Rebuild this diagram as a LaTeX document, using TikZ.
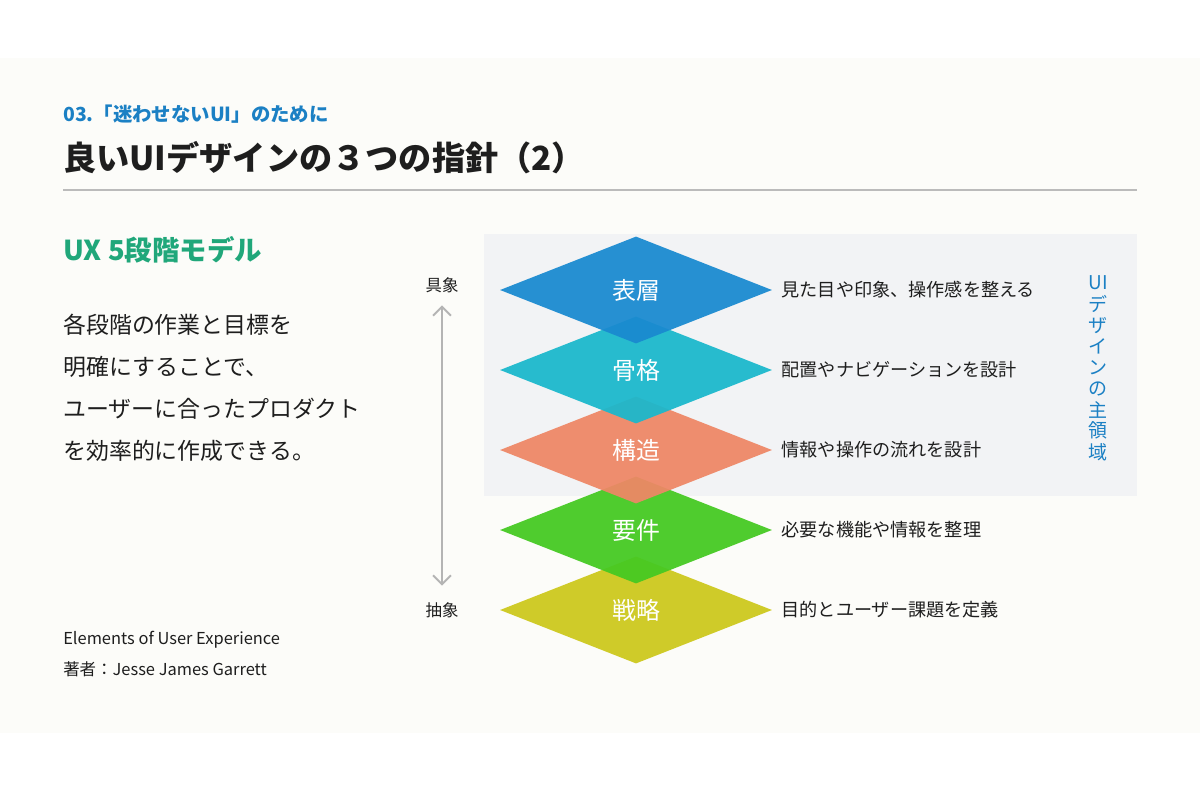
\documentclass[tikz,border=0pt]{standalone}
\usepackage{fontspec}
\setmainfont{Noto Sans CJK JP}
\usetikzlibrary{shapes.geometric,arrows.meta,positioning}
\definecolor{paper}{HTML}{FCFCF9}
\definecolor{panel}{HTML}{F2F3F5}
\definecolor{accent}{HTML}{1B80C4}
\definecolor{uxgreen}{HTML}{20A77A}
\definecolor{ink}{HTML}{1E1E1E}
\definecolor{rulegray}{HTML}{BBBBBB}
\definecolor{axisgray}{HTML}{B4B4B4}
\definecolor{cone}{HTML}{1A8AD0}
\definecolor{ctwo}{HTML}{1BB8CC}
\definecolor{cthree}{HTML}{EE8766}
\definecolor{cfour}{HTML}{45C922}
\definecolor{cfive}{HTML}{CDC81C}
\begin{document}
\begin{tikzpicture}[x=0.025cm,y=-0.025cm,
  txt/.style={anchor=west, inner sep=0pt, text=ink},
  layer/.style={diamond, minimum width=6.8cm, minimum height=2.675cm, inner sep=0pt,
    fill opacity=0.94, text opacity=1, text=white, font=\fontsize{17}{20}\selectfont},
  desc/.style={txt, font=\fontsize{12.9}{15}\selectfont},
  side/.style={inner sep=0pt, text=ink, font=\fontsize{11.7}{14}\selectfont},
  vlabel/.style={inner sep=0pt, text=accent, font=\fontsize{13.5}{15}\selectfont}]
\useasboundingbox (0,0) rectangle (1200,800);
\fill[white] (0,0) rectangle (1200,800);
\fill[paper] (0,58) rectangle (1200,733);

\node[txt, text=accent, font=\bfseries\fontsize{13.8}{16}\selectfont] (sub) at (63,114) {03.「迷わせないUI」のために};
\node[txt, font=\bfseries\fontsize{23.6}{28}\selectfont] (title) at (63,158) {良いUIデザインの３つの指針（2）};
\draw[rulegray, line width=1pt] (63,190) -- (1137,190);

\node[txt, text=uxgreen, font=\bfseries\fontsize{19.5}{22}\selectfont] (ux) at (63,250) {UX 5段階モデル};
\node[txt, align=left, font=\fontsize{16.3}{29.9}\selectfont] (body) at (63,388) {各段階の作業と目標を\\明確にすることで、\\ユーザーに合ったプロダクト\\を効率的に作成できる。};
\node[txt, align=left, font=\fontsize{11.7}{22}\selectfont] (book) at (63,654) {Elements of User Experience\\著者：Jesse James Garrett};

\fill[panel] (484,234) rectangle (1137,496);

\foreach \name/\lbl/\col/\y/\txt in {senryaku/戦略/cfive/610/目的とユーザー課題を定義,
  youken/要件/cfour/530/必要な機能や情報を整理,
  kouzou/構造/cthree/450/情報や操作の流れを設計,
  kokkaku/骨格/ctwo/370/配置やナビゲーションを設計,
  hyousou/表層/cone/290/見た目や印象、操作感を整える}
{
\node[layer, fill=\col] (\name) at (636,\y) {\lbl};
\node[desc, right=0.225cm of \name] (\name-d) {\txt};
}

\node[side] (gushou) at (442,285) {具象};
\node[side] (chushou) at (442,610) {抽象};
\draw[axisgray, line width=1.4pt, {Straight Barb[length=6.4pt,width=12.8pt]}-{Straight Barb[length=6.4pt,width=12.8pt]},
  shorten <=0.31cm, shorten >=0.41cm] (gushou) -- (chushou);

\foreach \c [count=\i] in {UI,デ,ザ,イ,ン,の,主,領,域}
\node[vlabel] (v\i) at (1098,262+21.1*\i) {\c};
\end{tikzpicture}
\end{document}
